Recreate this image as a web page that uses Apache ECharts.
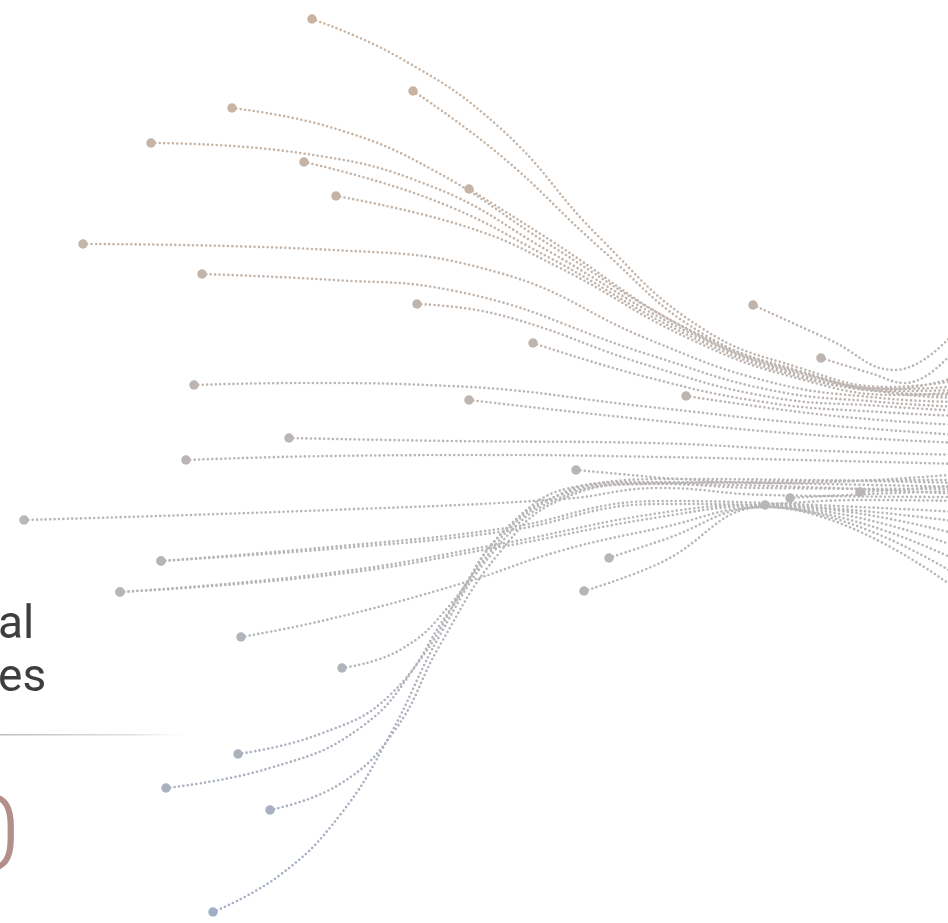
<!DOCTYPE html>
<html>
<head>
<meta charset="utf-8">
<script src="https://cdn.jsdelivr.net/npm/echarts@6/dist/echarts.min.js"></script>
<style>
html,body{margin:0;padding:0;background:#ffffff;}
#chart{width:948px;height:923px;}
</style>
</head>
<body>
<div id="chart"></div>
<script>
// ---- values (axis units == plot units) ----
const titleLines = ['al', 'es'];
const bigNumber = '0';

// upper (tan) flows: first point is the origin node
const upperLines = [
  [[312,19],[400,58],[500,128],[600,238],[700,327],[800,368],[890,387],[960,380]],
  [[413,91],[500,155],[600,248],[700,332],[800,371],[890,389],[960,376]],
  [[232,108],[333,128],[433,170],[550,245],[690,330],[800,372],[900,391],[960,390]],
  [[151,143],[300,153],[433,187],[550,252],[690,333],[800,375],[900,393],[960,395]],
  [[304,162],[433,200],[550,258],[690,336],[800,377],[900,394],[960,398]],
  [[336,196],[467,227],[560,268],[690,339],[800,379],[900,395],[960,392]],
  [[469,189],[550,240],[690,331],[800,373],[900,389],[960,386]],
  [[83,244],[333,250],[500,273],[650,340],[770,382],[880,398],[960,402]],
  [[202,274],[333,280],[450,290],[650,355],[770,390],[880,402],[960,407]],
  [[417,304],[500,315],[650,366],[770,397],[880,406],[960,411]],
  [[533,343],[650,378],[770,403],[880,412],[960,416]],
  [[753,305],[830,340],[895,370],[960,326]],
  [[821,358],[870,373],[905,383],[960,343]],
  [[686,396],[800,412],[880,420],[960,425]]
];

// middle (grey) flows
const middleLines = [
  [[194,385],[300,383],[450,386],[650,407],[800,423],[960,435]],
  [[469,400],[650,420],[800,434],[960,443]],
  [[289,438],[450,441],[650,443],[800,450],[960,455]],
  [[186,460],[330,456],[500,455],[660,457],[800,460],[960,464]],
  [[576,470],[620,474],[680,479],[780,483],[960,474]],
  [[24,520],[330,510],[563,499],[660,488],[765,495],[960,497]],
  [[161,561],[330,547],[500,529],[660,501],[765,503],[960,512]],
  [[161,561],[330,549],[500,532],[660,504],[765,505],[960,522]],
  [[120,592],[330,573],[500,544],[660,513],[765,505],[960,535]],
  [[120,592],[330,575],[500,547],[660,517],[765,506],[960,548]],
  [[241,637],[330,619],[463,583],[560,551],[660,528],[765,507],[960,562]],
  [[609,558],[660,541],[765,507],[960,577]],
  [[584,591],[660,563],[765,507],[960,592]],
  [[342,668],[400,650],[450,605],[500,535],[560,495],[640,483],[760,488],[960,489]],
  [[765,505],[860,500],[960,501]],
  [[790,498],[870,494],[960,491]],
  [[860,492],[910,489],[960,485]]
];

// lower (blue-grey) flows
const lowerLines = [
  [[238,754],[320,734],[390,695],[450,610],[510,525],[580,486],[680,479],[960,483]],
  [[166,788],[270,768],[360,728],[420,660],[480,565],[545,502],[630,482],[960,487]],
  [[270,810],[340,784],[395,730],[440,645],[500,552],[560,500],[650,484],[960,494]],
  [[213,912],[280,875],[340,815],[390,735],[440,635],[495,550],[555,500],[640,484],[960,480]]
];

// ---- styling helpers ----
const stops = [
  [0,   [203,180,158]],
  [0.45,[188,181,179]],
  [0.62,[182,182,184]],
  [1,   [160,175,196]]
];
function colorAt(y) {
  const t = Math.max(0, Math.min(1, y / 923));
  for (let i = 1; i < stops.length; i++) {
    if (t <= stops[i][0]) {
      const a = stops[i-1], b = stops[i];
      const f = (t - a[0]) / (b[0] - a[0]);
      const c = a[1].map((v, k) => Math.round(v + (b[1][k] - v) * f));
      return 'rgb(' + c.join(',') + ')';
    }
  }
  return 'rgb(' + stops[stops.length-1][1].join(',') + ')';
}
const lineGradient = {
  type: 'linear', x: 0, y: 0, x2: 0, y2: 923, global: true,
  colorStops: stops.map(s => ({offset: s[0], color: 'rgb(' + s[1].join(',') + ')'}))
};

const allLines = upperLines.concat(middleLines, lowerLines);
const series = allLines.map(pts => ({
  type: 'line',
  smooth: 0.45,
  showSymbol: true,
  showAllSymbol: true,
  symbol: 'none',
  silent: true,
  z: 2,
  lineStyle: {color: lineGradient, width: 2.6, type: [0, 4.4], cap: 'round', opacity: 1},
  data: pts.map((p, i) => i === 0
    ? {value: p, symbol: 'circle', symbolSize: 9.5, itemStyle: {color: colorAt(p[1]), opacity: 1}}
    : {value: p, symbol: 'none'})
}));

const chart = echarts.init(document.getElementById('chart'), null, {renderer: 'canvas'});
chart.setOption({
  animation: false,
  backgroundColor: '#ffffff',
  grid: {left: 0, right: 0, top: 0, bottom: 0},
  xAxis: {type: 'value', min: 0, max: 948, show: false},
  yAxis: {type: 'value', min: 0, max: 923, inverse: true, show: false},
  graphic: [
    {type: 'text', left: -2, top: 603, z: 10,
     style: {text: titleLines[0], fontFamily: 'Roboto', fontSize: 46, fill: '#3e3e3e'}},
    {type: 'text', left: -2, top: 656, z: 10,
     style: {text: titleLines[1], fontFamily: 'Roboto', fontSize: 46, fill: '#3e3e3e'}},
    {type: 'rect', shape: {x: 0, y: 734, width: 190, height: 1.6}, z: 10,
     style: {fill: {type: 'linear', x: 0, y: 0, x2: 1, y2: 0,
       colorStops: [{offset: 0, color: 'rgba(190,190,190,1)'}, {offset: 0.7, color: 'rgba(215,215,215,0.8)'}, {offset: 1, color: 'rgba(235,235,235,0)'}]}}},
    {type: 'text', x: 20, y: 790, z: 10,
     style: {text: bigNumber, fontFamily: 'Roboto', fontWeight: 300, fontSize: 106, align: 'right', verticalAlign: 'top',
       fill: '#b38f8b'}}
  ],
  series: series
});
</script>
</body>
</html>
